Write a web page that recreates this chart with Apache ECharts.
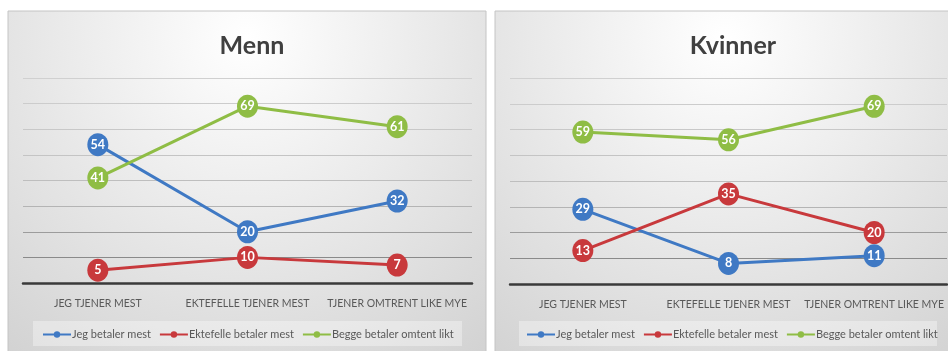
<!DOCTYPE html>
<html>
<head>
<meta charset="utf-8">
<script src="https://cdn.jsdelivr.net/npm/echarts@6/dist/echarts.min.js"></script>
<style>
  html, body { margin: 0; padding: 0; background: #ffffff; }
  #chart { width: 948px; height: 351px; }
</style>
</head>
<body>
<div id="chart"></div>
<script>
// Survey answers: who pays, broken down by who earns the most (percent)
const categories = ['JEG TJENER MEST', 'EKTEFELLE TJENER MEST', 'TJENER OMTRENT LIKE MYE'];
const seriesNames = ['Jeg betaler mest', 'Ektefelle betaler mest', 'Begge betaler omtent likt'];
const panelTitles = ['Menn', 'Kvinner'];

const mennJeg = [54, 20, 32];
const mennEktefelle = [5, 10, 7];
const mennBegge = [41, 69, 61];

const kvinnerJeg = [29, 8, 11];
const kvinnerEktefelle = [13, 35, 20];
const kvinnerBegge = [59, 56, 69];

const colors = ['#3f79c4', '#c8393c', '#8fbd45'];
const FONT = "Lato, sans-serif";

// grid lines get darker toward the baseline
const gridColors = ['#3a3a3a', '#8a8a8a', '#9c9c9c', '#b4b4b4', '#bebebe', '#c4c4c4', '#c8c8c8', '#cccccc', '#d0d0d0'];

const panels = [
  { x: 8, w: 478, grid: { left: 23, right: 476, top: 78, bottom: 68 }, center: 247,
    legend: { x: 33, w: 429, items: 42 }, data: [mennJeg, mennEktefelle, mennBegge] },
  { x: 495, w: 460, grid: { left: 510, right: 1, top: 78, bottom: 67 }, center: 728,
    legend: { x: 519, w: 418, items: 526 }, data: [kvinnerJeg, kvinnerEktefelle, kvinnerBegge] }
];

const chart = echarts.init(document.getElementById('chart'), null, { renderer: 'canvas' });

const graphic = [];
panels.forEach(p => {
  graphic.push({
    type: 'rect', z: -10, silent: true,
    shape: { x: p.x, y: 11, width: p.w, height: 345 },
    style: {
      fill: new echarts.graphic.RadialGradient(0.5, 0.08, 1.2, [
        { offset: 0, color: '#ffffff' },
        { offset: 0.45, color: '#eaeaea' },
        { offset: 1, color: '#d0d0d0' }
      ]),
      stroke: '#c4c4c4', lineWidth: 1
    }
  });
  graphic.push({
    type: 'rect', z: -5, silent: true,
    shape: { x: p.legend.x, y: 321, width: p.legend.w, height: 25 },
    style: { fill: 'rgba(255,255,255,0.35)' }
  });
});

const option = {
  backgroundColor: '#ffffff',
  animation: false,
  color: colors,
  textStyle: { fontFamily: FONT },
  graphic: graphic,
  title: panels.map((p, i) => ({
    text: panelTitles[i],
    left: p.center, top: 28, textAlign: 'center',
    textStyle: { fontFamily: FONT, fontSize: 25, fontWeight: 'bold', color: '#404040' }
  })),
  legend: panels.map(p => ({
    data: seriesNames,
    left: p.legend.items, top: 329, width: 440, padding: 0,
    itemWidth: 28, itemHeight: 8, itemGap: 8,
    textStyle: { fontFamily: FONT, fontSize: 11, color: '#595959', padding: [0, 0, 0, -4] }
  })),
  grid: panels.map(p => p.grid),
  xAxis: panels.map((p, i) => ({
    type: 'category', gridIndex: i, data: categories, boundaryGap: true,
    axisLine: { lineStyle: { color: '#3a3a3a', width: 2.5 } },
    axisTick: { show: false },
    axisLabel: { color: '#595959', fontSize: 10.5, margin: 15, fontFamily: FONT, interval: 0 }
  })),
  yAxis: panels.map((p, i) => ({
    type: 'value', gridIndex: i, min: 0, max: 80, interval: 10,
    axisLabel: { show: false }, axisLine: { show: false }, axisTick: { show: false },
    splitLine: { lineStyle: { color: gridColors, width: 1 } }
  })),
  series: []
};

panels.forEach((p, i) => {
  p.data.forEach((vals, k) => {
    option.series.push({
      type: 'line', name: seriesNames[k], xAxisIndex: i, yAxisIndex: i,
      data: vals,
      symbol: 'circle', symbolSize: [21, 23],
      lineStyle: { width: 3, color: colors[k] },
      itemStyle: { color: colors[k] },
      label: {
        show: true, position: 'inside', color: '#ffffff',
        fontWeight: 'bold', fontSize: 12.5, fontFamily: FONT
      }
    });
  });
});

chart.setOption(option);
</script>
</body>
</html>
